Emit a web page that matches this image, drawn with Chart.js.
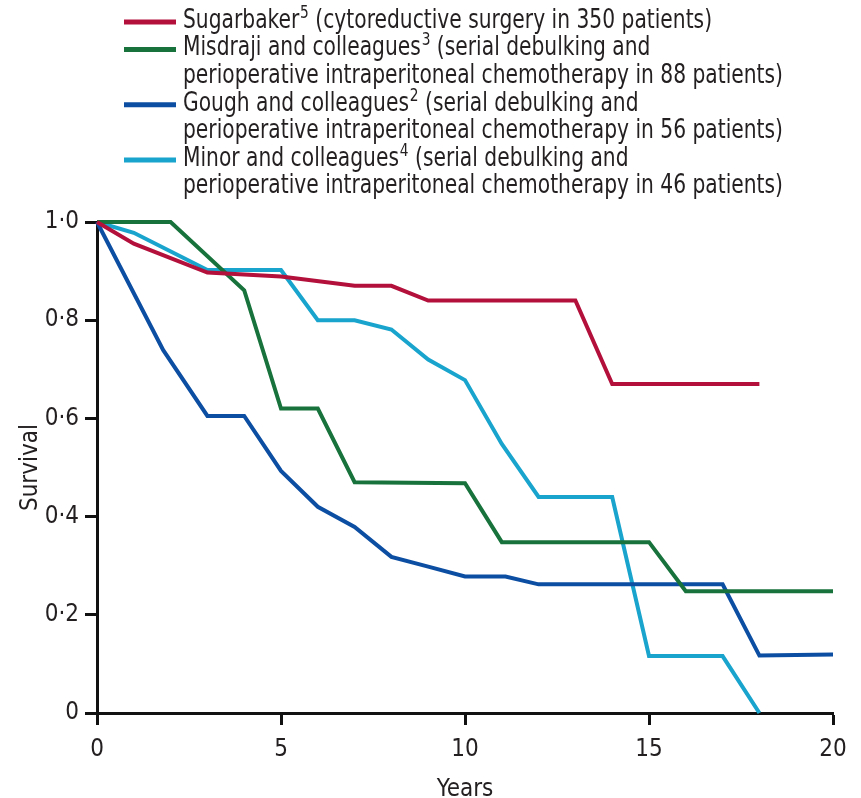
<!DOCTYPE html>
<html>
<head>
<meta charset="utf-8">
<script src="https://cdn.jsdelivr.net/npm/chart.js@4"></script>
<style>
  html, body { margin: 0; padding: 0; background: #fff; }
  #wrap { width: 861px; height: 798px; }
</style>
</head>
<body>
<div id="wrap"><canvas id="survivalChart" width="861" height="798"></canvas></div>
<script>
// Dati (anni, sopravvivenza)
const sugarbakerYears = [0, 1, 3, 5, 7, 8, 9, 13, 14, 18];
const sugarbakerSurv  = [1, 0.956, 0.897, 0.889, 0.87, 0.87, 0.84, 0.84, 0.67, 0.67];

const misdrajiYears = [0, 2, 4, 5, 6, 7, 10, 11, 15, 16, 20];
const misdrajiSurv  = [1, 1, 0.861, 0.62, 0.62, 0.47, 0.468, 0.348, 0.348, 0.248, 0.248];

const goughYears = [0, 1.8, 3, 4, 5, 6, 7, 8, 9, 10, 11.1, 12, 17, 18, 20];
const goughSurv  = [1, 0.739, 0.605, 0.605, 0.493, 0.42, 0.379, 0.318, 0.298, 0.278, 0.278, 0.262, 0.262, 0.117, 0.119];

const minorYears = [0, 1, 3, 5, 6, 7, 8, 9, 10, 11, 12, 14, 15, 17, 18];
const minorSurv  = [1, 0.978, 0.902, 0.902, 0.8, 0.8, 0.781, 0.72, 0.678, 0.548, 0.44, 0.44, 0.116, 0.116, 0];

const xTicks = [0, 5, 10, 15, 20];

const seriesInfo = [
  { name: 'Sugarbaker', sup: '5', rest: ' (cytoreductive surgery in 350 patients)', more: null,
    color: '#b3103c', xs: sugarbakerYears, ys: sugarbakerSurv },
  { name: 'Misdraji and colleagues', sup: '3', rest: ' (serial debulking and',
    more: 'perioperative intraperitoneal chemotherapy in 88 patients)',
    color: '#17733b', xs: misdrajiYears, ys: misdrajiSurv },
  { name: 'Gough and colleagues', sup: '2', rest: ' (serial debulking and',
    more: 'perioperative intraperitoneal chemotherapy in 56 patients)',
    color: '#0c4ea2', xs: goughYears, ys: goughSurv },
  { name: 'Minor and colleagues', sup: '4', rest: ' (serial debulking and',
    more: 'perioperative intraperitoneal chemotherapy in 46 patients)',
    color: '#19a4cd', xs: minorYears, ys: minorSurv }
];

const FONT = '"Liberation Sans Narrow", "DejaVu Sans Condensed", "Roboto Condensed", Roboto, sans-serif';

function toPoints(xs, ys) {
  return xs.map((x, i) => ({ x: x, y: ys[i] }));
}

// Legenda disegnata a mano (apici e testo su più righe), testo compresso in orizzontale
const legendPlugin = {
  id: 'customLegend',
  afterDraw(chart) {
    const c = chart.ctx;
    c.save();
    const size = 26;
    c.font = size + 'px ' + FONT;
    const w = c.measureText('perioperative intraperitoneal chemotherapy in 88 patients)').width;
    const sx = 600 / w;
    const rowH = 27.6;
    let y = 21;
    seriesInfo.forEach(s => {
      c.strokeStyle = s.color;
      c.lineWidth = 5;
      c.beginPath();
      c.moveTo(124, y + 1);
      c.lineTo(176, y + 1);
      c.stroke();

      c.save();
      c.translate(183, 0);
      c.scale(sx, 1);
      c.fillStyle = '#231f20';
      c.textBaseline = 'middle';
      c.textAlign = 'left';
      let x = 0;
      c.font = size + 'px ' + FONT;
      c.fillText(s.name, x, y);
      x += c.measureText(s.name).width + 1;
      c.font = (size * 0.68) + 'px ' + FONT;
      c.fillText(s.sup, x, y - size * 0.3);
      x += c.measureText(s.sup).width;
      c.font = size + 'px ' + FONT;
      c.fillText(s.rest, x, y);
      y += rowH;
      if (s.more) {
        c.fillText(s.more, 0, y);
        y += rowH;
      }
      c.restore();
    });
    c.restore();
  }
};

const ctx = document.getElementById('survivalChart').getContext('2d');

const chart = new Chart(ctx, {
  type: 'line',
  data: {
    datasets: seriesInfo.map(s => ({
      label: s.name,
      data: toPoints(s.xs, s.ys),
      borderColor: s.color,
      backgroundColor: s.color,
      borderWidth: 4,
      pointRadius: 0,
      tension: 0,
      clip: false,
      borderJoinStyle: 'miter'
    }))
  },
  options: {
    responsive: false,
    animation: false,
    layout: { padding: { top: 222, right: 28, left: 0, bottom: 0 } },
    plugins: {
      legend: { display: false },
      tooltip: { enabled: false }
    },
    scales: {
      x: {
        type: 'linear',
        min: 0,
        max: 20,
        afterBuildTicks: (scale) => { scale.ticks = xTicks.map(v => ({ value: v })); },
        afterFit: (scale) => { scale.height = 85; },
        ticks: {
          color: '#231f20',
          font: { family: FONT, size: 24 },
          padding: 10,
          maxRotation: 0
        },
        grid: { drawOnChartArea: false, tickLength: 12, tickWidth: 3, tickColor: '#111' },
        border: { color: '#111', width: 3 },
        title: {
          display: true,
          text: 'Years',
          color: '#231f20',
          font: { family: FONT, size: 24, lineHeight: 1 },
          padding: { top: 0, bottom: -4 }
        }
      },
      y: {
        min: 0,
        max: 1,
        afterFit: (scale) => { scale.width = 97; },
        ticks: {
          stepSize: 0.2,
          color: '#231f20',
          font: { family: FONT, size: 24 },
          padding: 6,
          callback: (v) => v === 0 ? '0' : v.toFixed(1).replace('.', '·')
        },
        grid: { drawOnChartArea: false, tickLength: 12, tickWidth: 3, tickColor: '#111' },
        border: { color: '#111', width: 3 },
        title: {
          display: true,
          text: 'Survival',
          color: '#231f20',
          font: { family: FONT, size: 24 },
          padding: { top: 16, bottom: 0 }
        }
      }
    }
  },
  plugins: [legendPlugin]
});
</script>
</body>
</html>
